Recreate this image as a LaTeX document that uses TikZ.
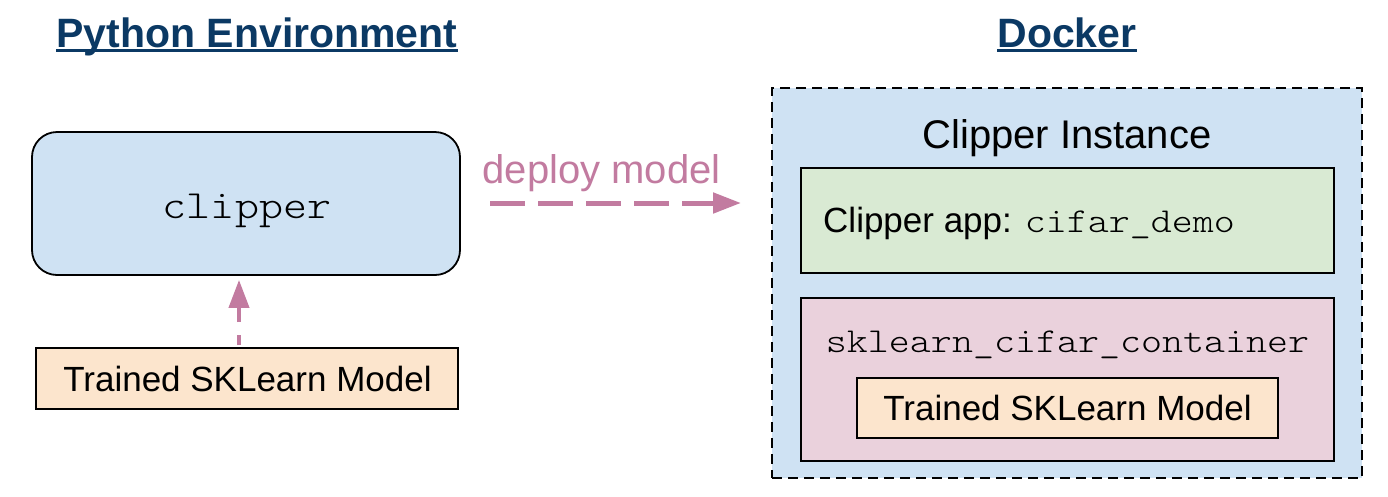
\documentclass[tikz,border=0pt]{standalone}
\usepackage{fontspec}
\setmainfont{Liberation Sans}
\newfontfamily\cmono[FakeStretch=1.143]{Latin Modern Mono Light}
\usetikzlibrary{arrows.meta}
\definecolor{cblue}{HTML}{CFE2F3}
\definecolor{cgreen}{HTML}{D9EAD3}
\definecolor{cpink}{HTML}{EAD1DC}
\definecolor{cpeach}{HTML}{FCE5CD}
\definecolor{apink}{HTML}{C27BA0}
\definecolor{tblue}{HTML}{0B3964}
\begin{document}
\begin{tikzpicture}[x=1pt,y=-1pt,
  box/.style={draw=black, line width=1.8pt, inner sep=0pt},
  lbl/.style={inner sep=0pt, anchor=base},
  ttl/.style={lbl, text=tblue, font=\fontsize{41}{41}\selectfont\bfseries},
  sz35/.style={font=\fontsize{35}{35}\selectfont},
  sz40/.style={font=\fontsize{40}{40}\selectfont},
  darrow/.style={draw=apink, line width=5pt, dash pattern=on 35pt off 13pt, -{Triangle[length=28pt,width=20pt]}},
  uarrow/.style={draw=apink, line width=4pt, dash pattern=on 16pt off 13pt, dash phase=6pt, -{Triangle[length=28pt,width=20pt]}},
  uline/.style={draw=tblue, line width=3pt}
]
\useasboundingbox (0,0) rectangle (1388,496);
\fill[white] (0,0) rectangle (1388,496);

% titles
\node[ttl] (pyt) at (257,47) {Python Environment};
\draw[uline] ([yshift=-3.5pt]pyt.base west) -- ([yshift=-3.5pt]pyt.base east);
\node[ttl] (dkt) at (1067,47) {Docker};
\draw[uline] ([yshift=-3.5pt]dkt.base west) -- ([yshift=-3.5pt]dkt.base east);

% left side
\node[box, fill=cblue, rounded corners=25pt, minimum width=428pt, minimum height=143pt] (clip) at (246,203.5) {};
\node[lbl, sz40] (cliptxt) at (247,218) {\cmono clipper};
\node[box, fill=cpeach, minimum width=422pt, minimum height=61pt] (trL) at (247,378.5) {};
\node[lbl, sz35] (trLtxt) at (247.5,391) {Trained SKLearn Model};
\draw[uarrow, shorten <=2pt, shorten >=4pt] ([xshift=-8pt]trL.north) -- ([xshift=-7pt]clip.south);

% deploy arrow
\node[lbl, sz40, text=apink] (dep) at (601.5,183) {deploy model};
\coordinate (ds) at (490,203);
\coordinate (de) at (741,203);
\draw[darrow] (ds) -- (de);

% docker side
\node[draw=black, line width=2.5pt, dash pattern=on 10pt off 6pt, fill=cblue, inner sep=0pt, minimum width=590pt, minimum height=390pt] (dock) at (1067,283) {};
\node[lbl, sz40] (inst) at (1067,148) {Clipper Instance};
\node[box, fill=cgreen, minimum width=533pt, minimum height=105pt] (app) at (1067.5,220.5) {};
\node[inner sep=0pt, anchor=base west, sz35] (apptxt) at (823,232) {Clipper app: {\cmono cifar\_demo}};
\node[box, fill=cpink, minimum width=533pt, minimum height=163pt] (cont) at (1067.5,379.5) {};
\node[lbl, sz35] (conttxt) at (1067.5,352) {\cmono sklearn\_cifar\_container};
\node[box, fill=cpeach, minimum width=421pt, minimum height=60pt] (trR) at (1067.5,408) {};
\node[lbl, sz35] (trRtxt) at (1067.5,420) {Trained SKLearn Model};
\end{tikzpicture}
\end{document}
